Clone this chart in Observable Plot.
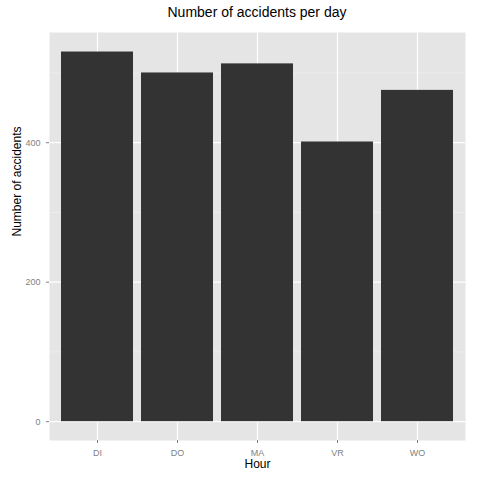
<!DOCTYPE html>
<html>
<head>
<meta charset="utf-8">
<script src="https://cdn.jsdelivr.net/npm/d3@7"></script>
<script src="https://cdn.jsdelivr.net/npm/@observablehq/plot@0.6"></script>
<style>
  body { margin: 0; background: #fff; font-family: "Liberation Sans", Arial, sans-serif; }
  #title { height: 25px; line-height: 25px; padding-left: 49px; width: 416px; text-align: center; font-size: 14px; color: #000; padding-top: 0; }
</style>
</head>
<body>
<div id="title">Number of accidents per day</div>
<div id="chart"></div>
<script>
const days = ["DI", "DO", "MA", "VR", "WO"];
const accidents = [530, 500, 513, 401, 475];
const majorTicks = [0, 200, 400];
const minorTicks = [100, 300, 500];

const data = days.map((d, i) => ({day: d, n: accidents[i]}));

const chart = Plot.plot({
  width: 480,
  height: 455,
  marginTop: 7,
  marginBottom: 40,
  marginLeft: 49,
  marginRight: 15,
  style: {fontFamily: "Liberation Sans, Arial, sans-serif", fontSize: 9, color: "#7f7f7f"},
  x: {domain: days, paddingInner: 0.1, paddingOuter: 0.15, label: "Hour", labelAnchor: "center", labelOffset: 36, tickSize: 3},
  y: {domain: [-27, 558], ticks: majorTicks, label: "Number of accidents", labelAnchor: "center", labelOffset: 38, tickSize: 3},
  marks: [
    Plot.frame({fill: "#e5e5e5", stroke: null}),
    Plot.ruleY(minorTicks, {stroke: "#f2f2f2", strokeWidth: 0.6}),
    Plot.ruleY(majorTicks, {stroke: "#fff", strokeWidth: 1.2}),
    Plot.tickX(days, {x: d => d, stroke: "#fff", strokeWidth: 1.2}),
    Plot.barY(data, {x: "day", y: "n", fill: "#333333"}),
    Plot.axisX({tickSize: 3, stroke: "#7f7f7f", fill: "#7f7f7f", label: null}),
    Plot.axisY({ticks: majorTicks, tickSize: 3, stroke: "#7f7f7f", fill: "#7f7f7f", label: null}),
    Plot.text(["Hour"], {frameAnchor: "bottom", dy: 27, fill: "#000", fontSize: 12}),
    Plot.text(["Number of accidents"], {frameAnchor: "left", dx: -32, rotate: -90, fill: "#000", fontSize: 12})
  ]
});
document.getElementById("chart").append(chart);
</script>
</body>
</html>
